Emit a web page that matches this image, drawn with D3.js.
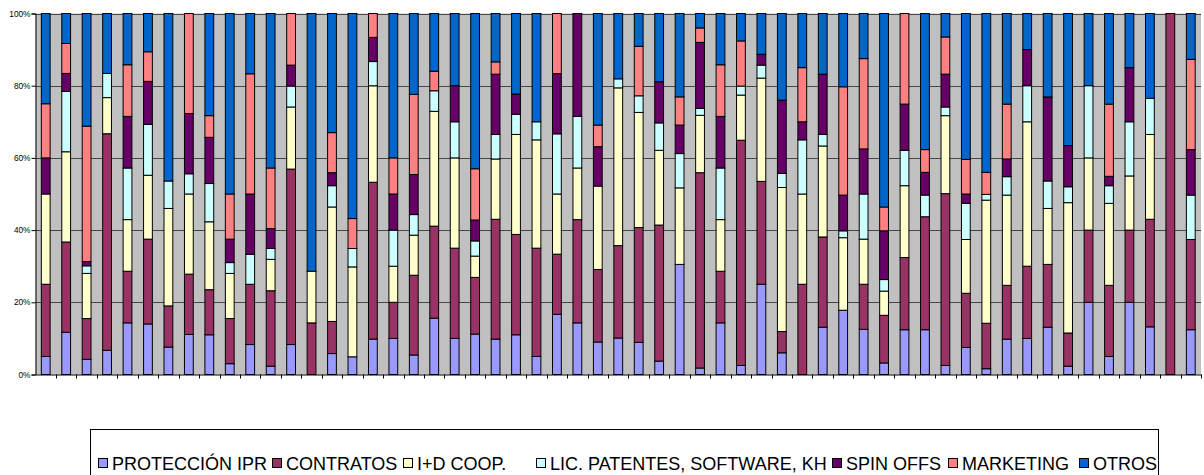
<!DOCTYPE html>
<html>
<head>
<meta charset="utf-8">
<script src="https://cdn.jsdelivr.net/npm/d3@7"></script>
<style>
    html, body { margin: 0; padding: 0; background: #fff; }
    svg { display: block; font-family: 'Liberation Sans', Arial, sans-serif; }
</style>
</head>
<body>
<div id="chart"></div>
<script>
'use strict';

// 57 institutions, no labels on the category axis
const categories = d3.range(1, 58).map(String);

// shares per category (percent), bottom to top of each stack
const proteccion = [5, 11.7, 4.2, 6.7, 14.3, 14, 7.6, 11.1, 11, 3, 8.3, 2.3, 8.3, 0, 5.8, 4.9, 9.8, 10, 5.4, 15.6,
    10, 11.2, 9.8, 11, 5, 16.7, 14.3, 9, 10.1, 8.9, 3.7, 30.5, 1.8, 14.3, 2.5, 25, 6, 0, 13.1, 17.8,
    12.5, 3.2, 12.4, 12.4, 2.5, 7.5, 1.6, 9.8, 10, 13.1, 2.3, 20, 5, 20, 13.2, 0, 12.4];
const contratos = [20, 25, 11.3, 60, 14.3, 23.5, 11.4, 16.7, 12.5, 12.5, 16.7, 20.9, 48.6, 14.3, 8.9, 0, 43.4, 10, 22.1, 25.5,
    25, 15.7, 33.2, 27.8, 30, 16.7, 28.6, 20.1, 25.6, 31.8, 37.7, 0, 54.1, 14.3, 62.4, 28.5, 5.9, 25, 25, 0,
    12.5, 13.2, 20, 31.3, 47.6, 15, 12.6, 14.9, 20, 17.4, 9.2, 20, 19.7, 20, 29.8, 100, 25];
const idCoop = [25, 25, 12.5, 10, 14.3, 17.7, 27, 22.2, 18.8, 12.5, 0, 8.7, 17.2, 14.3, 31.7, 24.9, 26.7, 10, 11.1, 31.8,
    25, 5.9, 16.7, 27.7, 30, 16.7, 14.3, 23.1, 43.7, 31.9, 20.7, 21.2, 15.9, 14.3, 12.5, 28.6, 39.9, 25, 25.2, 20.1,
    12.5, 6.7, 19.9, 0, 21.6, 14.9, 34.1, 25, 40, 15.5, 36.1, 20, 22.7, 15, 23.5, 0, 0];
const licPatentes = [0, 16.7, 2.1, 6.7, 14.3, 14.1, 7.6, 5.6, 10.6, 3, 8.3, 3, 5.8, 0, 5.9, 5.1, 6.7, 10, 5.7, 5.7,
    10, 4.2, 6.8, 5.6, 5, 16.7, 14.3, 0, 2.5, 4.6, 7.6, 9.5, 1.9, 14.3, 2.5, 3.6, 3.9, 15, 3.2, 1.9,
    12.5, 3.2, 9.8, 6, 2.4, 10, 1.6, 5.1, 10, 7.6, 4.4, 20, 4.9, 15, 10, 0, 12.3];
const spinOffs = [10, 5, 1.2, 0, 14.3, 11.9, 0, 16.7, 12.8, 6.5, 16.7, 5.5, 5.8, 0, 3.6, 0, 6.7, 10, 11.1, 0,
    10, 5.8, 16.7, 5.6, 0, 16.7, 28.5, 10.9, 0, 0, 11.4, 7.9, 18.3, 14.3, 0, 3, 20.3, 5, 16.7, 9.9,
    12.5, 13.5, 12.8, 6.3, 9.1, 2.6, 0, 4.9, 10, 23.3, 11.4, 0, 2.6, 15, 0, 0, 12.6];
const marketing = [15, 8.3, 37.5, 0, 14.3, 8.2, 0, 27.7, 6, 12.5, 33.3, 16.8, 14.3, 0, 11.1, 8.3, 6.6, 10, 22.2, 5.4,
    0, 14.2, 3.4, 0, 0, 16.7, 0, 6, 0, 13.7, 0, 7.8, 4, 14.3, 12.5, 0, 0, 15, 0, 30,
    25, 6.6, 25.1, 6.3, 10.3, 9.6, 6.1, 15.2, 0, 0, 0, 0, 20, 0, 0, 0, 25];
const otros = [25, 8.3, 31.2, 16.6, 14.2, 10.6, 46.4, 0, 28.3, 50, 16.7, 42.8, 0, 71.4, 33, 56.8, 0, 40, 22.4, 16,
    20, 43, 13.4, 22.3, 30, 0, 0, 30.9, 18.1, 9.1, 18.9, 23.1, 4, 14.2, 7.6, 11.3, 24, 15, 16.8, 20.3,
    12.5, 53.6, 0, 37.7, 6.5, 40.4, 44, 25.1, 10, 23.1, 36.6, 20, 25.1, 15, 23.5, 0, 12.7];

const seriesNames = ['PROTECCIÓN IPR', 'CONTRATOS', 'I+D COOP.', 'LIC. PATENTES, SOFTWARE, KH', 'SPIN OFFS', 'MARKETING', 'OTROS'];
const seriesColors = ['#9999ff', '#993366', '#ffffcc', '#ccffff', '#660066', '#ff8080', '#0066cc'];
const yTicks = [0, 0.2, 0.4, 0.6, 0.8, 1];

(function(doc) {

    const width = 1204;
    const height = 475;
    const plot = {left: 35.5, right: 1201, top: 13.5, bottom: 374.5};
    // left edge of each legend key, as laid out in the original
    const legendKeyX = [98, 272, 403, 536, 832, 948, 1079];

    const seriesValues = [proteccion, contratos, idCoop, licPatentes, spinOffs, marketing, otros];
    const keys = seriesNames.map((n, i) => `s${i}`);
    const rows = categories.map((c, j) => {
        const row = {category: c};
        keys.forEach((k, i) => { row[k] = seriesValues[i][j]; });
        return row;
    });

    const svg = d3.select('#chart').append('svg')
        .attr('width', width)
        .attr('height', height);

    const x = d3.scaleBand()
        .domain(categories)
        .range([plot.left, plot.right])
        .padding(0);
    const y = d3.scaleLinear()
        .domain([0, 1])
        .range([plot.bottom, plot.top]);

    const barWidth = x.bandwidth() * 0.43;

    // plot area
    svg.append('rect')
        .attr('x', plot.left)
        .attr('y', plot.top)
        .attr('width', plot.right - plot.left)
        .attr('height', plot.bottom - plot.top)
        .attr('fill', '#c0c0c0');

    svg.append('g')
        .selectAll('line')
        .data(yTicks.filter(t => t > 0))
        .enter().append('line')
        .attr('x1', plot.left)
        .attr('x2', plot.right)
        .attr('y1', d => Math.round(y(d)) + 0.5)
        .attr('y2', d => Math.round(y(d)) + 0.5)
        .attr('stroke', '#474747')
        .attr('stroke-width', 1);

    const stacked = d3.stack().keys(keys).offset(d3.stackOffsetExpand)(rows);

    svg.append('g')
        .selectAll('g')
        .data(stacked)
        .enter().append('g')
        .attr('fill', (d, i) => seriesColors[i])
        .selectAll('rect')
        .data(d => d.filter(p => p[1] - p[0] > 0))
        .enter().append('rect')
        .attr('x', d => x(d.data.category) + (x.bandwidth() - barWidth) / 2)
        .attr('y', d => y(d[1]))
        .attr('width', barWidth)
        .attr('height', d => y(d[0]) - y(d[1]))
        .attr('stroke', '#000')
        .attr('stroke-width', 1);

    // axes
    const yAxis = svg.append('g')
        .attr('transform', `translate(${plot.left}, 0)`)
        .call(d3.axisLeft(y).tickValues(yTicks).tickFormat(d3.format('.0%')).tickSize(4).tickPadding(1));
    yAxis.select('.domain').attr('stroke', '#000');
    yAxis.selectAll('text')
        .attr('font-family', "'Liberation Sans', Arial, sans-serif")
        .attr('font-size', 8.3)
        .attr('fill', '#000');

    const xAxis = svg.append('g')
        .attr('transform', `translate(0, ${plot.bottom})`)
        .call(d3.axisBottom(x).tickSize(0).tickFormat(''));
    xAxis.select('.domain').attr('stroke', '#000');
    xAxis.selectAll('.tick').remove();
    xAxis.selectAll('line.cat')
        .data(categories)
        .enter().append('line')
        .attr('class', 'cat')
        .attr('x1', d => Math.round(x(d) + x.bandwidth()) + 0.5)
        .attr('x2', d => Math.round(x(d) + x.bandwidth()) + 0.5)
        .attr('y1', 0)
        .attr('y2', 4)
        .attr('stroke', '#000');

    // legend (bottom edge falls outside the picture, as in the original)
    const legend = svg.append('g');
    legend.append('rect')
        .attr('x', 90.5)
        .attr('y', 429.5)
        .attr('width', 1068)
        .attr('height', 60)
        .attr('fill', '#fff')
        .attr('stroke', '#000')
        .attr('stroke-width', 1);

    const items = legend.selectAll('g.item')
        .data(seriesNames)
        .enter().append('g')
        .attr('class', 'item')
        .attr('transform', (d, i) => `translate(${legendKeyX[i]}, 0)`);
    items.append('text')
        .attr('x', 14)
        .attr('y', 469.5)
        .attr('font-size', 18)
        .attr('fill', '#000')
        .text(d => d);
    items.append('rect')
        .attr('x', 0.5)
        .attr('y', 458.5)
        .attr('width', 9)
        .attr('height', 9)
        .attr('fill', (d, i) => seriesColors[i])
        .attr('stroke', '#000')
        .attr('stroke-width', 1);

}(document));
</script>
</body>
</html>
